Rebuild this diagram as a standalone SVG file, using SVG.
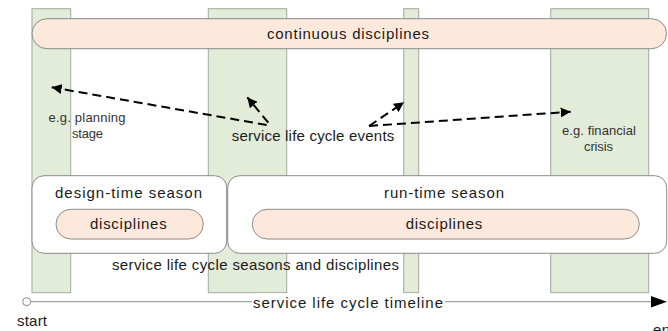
<svg xmlns="http://www.w3.org/2000/svg" width="668" height="331" viewBox="0 0 668 331">
<defs>
<style>
.bar{fill:#e3ecd9;stroke:#a2aaa0;stroke-width:1}
.pill{fill:#fde9dc;stroke:#8a8a8a;stroke-width:1}
.season{fill:#ffffff;stroke:#8a8a8a;stroke-width:1}
.t{font-family:"Liberation Sans",Arial,sans-serif;font-size:15px;fill:#1a1a1a}
.s{font-family:"Liberation Sans",Arial,sans-serif;font-size:13px;fill:#333333}
.ev{fill:none;stroke:#000;stroke-width:2;stroke-dasharray:9 5}
</style>
<marker id="ah" viewBox="0 0 10 10" refX="10" refY="5" markerWidth="5" markerHeight="5" markerUnits="strokeWidth" orient="auto">
<path d="M0,0 L10,5 L0,10 Z" fill="#000"/>
</marker>
</defs>
<rect width="668" height="331" fill="#ffffff"/>
<g id="bars">
<rect id="bar1" class="bar" x="32" y="8.7" width="38.7" height="284"/>
<rect id="bar2" class="bar" x="208.3" y="8.7" width="78.4" height="284"/>
<rect id="bar3" class="bar" x="403.7" y="8.7" width="15" height="284"/>
<rect id="bar4" class="bar" x="550.7" y="8.7" width="98" height="284"/>
</g>
<g id="continuous">
<rect class="pill" x="32" y="18.7" width="634.5" height="30" rx="15"/>
<text class="t" x="348" y="39" text-anchor="middle" textLength="162" lengthAdjust="spacing">continuous disciplines</text>
</g>
<g id="labels-events">
<text class="s" x="87" y="122" text-anchor="middle" textLength="77" lengthAdjust="spacing">e.g. planning</text>
<text class="s" x="87.5" y="138" text-anchor="middle" textLength="31" lengthAdjust="spacing">stage</text>
<text class="s" x="599" y="135" text-anchor="middle" textLength="74" lengthAdjust="spacing">e.g. financial</text>
<text class="s" x="598.5" y="151" text-anchor="middle" textLength="29" lengthAdjust="spacing">crisis</text>
</g>
<g id="events">
<text class="t" x="313" y="141" text-anchor="middle" textLength="162.5" lengthAdjust="spacing">service life cycle events</text>
</g>
<g id="connectors">
<line class="ev" x1="266.7" y1="125" x2="51.7" y2="87.3" marker-end="url(#ah)"/>
<line class="ev" x1="268.3" y1="122.7" x2="247.3" y2="97.3" marker-end="url(#ah)"/>
<line class="ev" x1="369" y1="126" x2="404" y2="102.3" marker-end="url(#ah)"/>
<line class="ev" x1="369" y1="126" x2="570.7" y2="111.7" marker-end="url(#ah)"/>
<line x1="31" y1="301.7" x2="652" y2="301.7" stroke="#8a8a8a" stroke-width="1"/>
<path d="M651,296 L667,301.7 L651,307.5 Z" fill="#000"/>
</g>
<g id="design-time">
<rect class="season" x="32" y="175.7" width="194.7" height="77.6" rx="12"/>
<text class="t" x="128.5" y="198.3" text-anchor="middle" textLength="147" lengthAdjust="spacing">design-time season</text>
<rect class="pill" x="56" y="209.3" width="147.3" height="29.7" rx="14.8"/>
<text class="t" x="128.3" y="229" text-anchor="middle" textLength="76.7" lengthAdjust="spacing">disciplines</text>
</g>
<g id="run-time">
<rect class="season" x="227.7" y="175.7" width="439" height="77.6" rx="12"/>
<text class="t" x="444" y="198.3" text-anchor="middle" textLength="120" lengthAdjust="spacing">run-time season</text>
<rect class="pill" x="252.3" y="209.3" width="387" height="29.7" rx="14.8"/>
<text class="t" x="444" y="229" text-anchor="middle" textLength="76.7" lengthAdjust="spacing">disciplines</text>
</g>
<g id="seasons-label">
<text class="t" x="255.5" y="270" text-anchor="middle" textLength="287" lengthAdjust="spacing">service life cycle seasons and disciplines</text>
</g>
<g id="timeline">
<rect x="252" y="293.5" width="193" height="17" fill="#ffffff"/>
<text class="t" x="348" y="307.5" text-anchor="middle" textLength="190" lengthAdjust="spacing">service life cycle timeline</text>
</g>
<g id="start">
<circle cx="26.7" cy="301.7" r="4" fill="#ffffff" stroke="#8a8a8a" stroke-width="1"/>
<text class="t" x="32" y="326" text-anchor="middle" textLength="30" lengthAdjust="spacing" font-size="14">start</text>
</g>
<g id="end">
<text class="t" x="653" y="335" textLength="26" lengthAdjust="spacing" font-size="14">end</text>
</g>
</svg>
